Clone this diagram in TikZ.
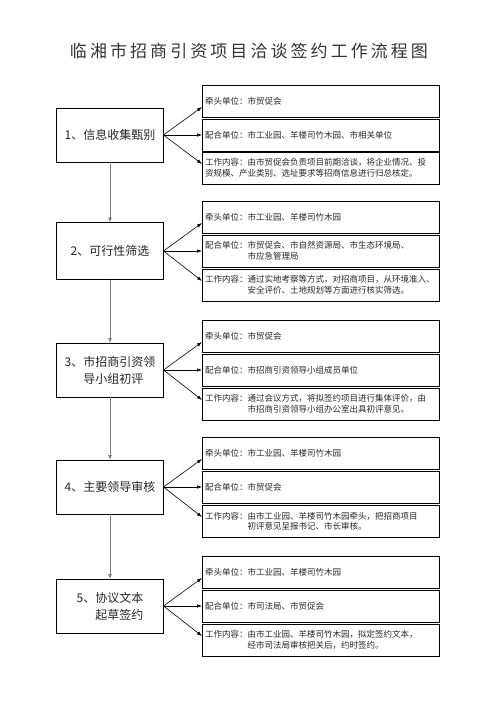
\documentclass[tikz,border=0pt]{standalone}
\usepackage{fontspec}
\setmainfont{Noto Sans CJK SC}
\usetikzlibrary{arrows.meta}
\definecolor{c262626}{RGB}{38,38,38}
\definecolor{c333333}{RGB}{51,51,51}
\definecolor{c808080}{RGB}{128,128,128}

\begin{document}
\begin{tikzpicture}[x=1pt, y=-1pt, inner sep=0pt, outer sep=0pt,
  stagebox/.style={draw=black, line width=0.8pt, minimum width=107pt, minimum height=54pt, text=c262626, font=\fontsize{12}{17}\selectfont, align=left},
  infobox/.style={draw=black, line width=0.8pt, anchor=north west, minimum height=32pt, text width=231pt, inner xsep=3pt, text=c262626, font=\fontsize{8.5}{10.5}\selectfont, align=left},
  flow/.style={draw=c808080, line width=0.8pt, -{Latex[length=5pt,width=4pt]}},
  fan/.style={draw=black, line width=0.6pt, -{Latex[length=5pt,width=3.5pt]}}]
  \useasboundingbox (0,0) rectangle (496,702);

  \node[font=\fontsize{17}{21}\selectfont\addfontfeature{LetterSpace=18}, text=c333333] (title) at (249,51) {临湘市招商引资项目洽谈签约工作流程图};

  \node[stagebox] (stage1) at (110,135) {1、信息收集甄别};
  \node[infobox] (lead1) at (202,85) {牵头单位：市贸促会};
  \node[infobox] (coop1) at (202,119) {配合单位：市工业园、羊楼司竹木园、市相关单位};
  \node[infobox] (work1) at (202,152) {工作内容：由市贸促会负责项目前期洽谈，将企业情况、投\\资规模、产业类别、选址要求等招商信息进行归总核定。};

  \node[stagebox, minimum height=57pt] (stage2) at (110,251) {2、可行性筛选};
  \node[infobox] (lead2) at (202,201) {牵头单位：市工业园、羊楼司竹木园};
  \node[infobox] (coop2) at (202,235) {配合单位：市贸促会、市自然资源局、市生态环境局、\\\hspace*{5em}市应急管理局};
  \node[infobox] (work2) at (202,269) {工作内容：通过实地考察等方式，对招商项目，从环境准入、\\\hspace*{5em}安全评价、土地规划等方面进行核实筛选。};

  \node[stagebox] (stage3) at (110,370) {3、市招商引资领\\\phantom{3、}导小组初评};
  \node[infobox] (lead3) at (202,320) {牵头单位：市贸促会};
  \node[infobox] (coop3) at (202,354) {配合单位：市招商引资领导小组成员单位};
  \node[infobox] (work3) at (202,388) {工作内容：通过会议方式，将拟签约项目进行集体评价，由\\\hspace*{5em}市招商引资领导小组办公室出具初评意见。};

  \node[stagebox] (stage4) at (110,487) {4、主要领导审核};
  \node[infobox] (lead4) at (202,437) {牵头单位：市工业园、羊楼司竹木园};
  \node[infobox] (coop4) at (202,471) {配合单位：市贸促会};
  \node[infobox] (work4) at (202,505) {工作内容：由市工业园、羊楼司竹木园牵头，把招商项目\\\hspace*{5em}初评意见呈报书记、市长审核。};

  \node[stagebox] (stage5) at (110,606) {5、协议文本\\\phantom{5、}起草签约};
  \node[infobox] (lead5) at (202,556) {牵头单位：市工业园、羊楼司竹木园};
  \node[infobox] (coop5) at (202,590) {配合单位：市司法局、市贸促会};
  \node[infobox] (work5) at (202,624) {工作内容：由市工业园、羊楼司竹木园，拟定签约文本，\\\hspace*{5em}经市司法局审核把关后，约时签约。};

  \draw[flow] (stage1) -- (stage2);
  \draw[flow] (stage2) -- (stage3);
  \draw[flow] (stage3) -- (stage4);
  \draw[flow] (stage4) -- (stage5);

  \draw[fan] (stage1.east) -- ([yshift=-6pt]lead1.west);
  \draw[fan] (stage1.east) -- (coop1.west);
  \draw[fan] (stage1.east) -- ([yshift=4pt]work1.west);
  \draw[fan] (stage2.east) -- ([yshift=-6pt]lead2.west);
  \draw[fan] (stage2.east) -- (coop2.west);
  \draw[fan] (stage2.east) -- ([yshift=4pt]work2.west);
  \draw[fan] (stage3.east) -- ([yshift=-6pt]lead3.west);
  \draw[fan] (stage3.east) -- (coop3.west);
  \draw[fan] (stage3.east) -- ([yshift=4pt]work3.west);
  \draw[fan] (stage4.east) -- ([yshift=-6pt]lead4.west);
  \draw[fan] (stage4.east) -- (coop4.west);
  \draw[fan] (stage4.east) -- ([yshift=4pt]work4.west);
  \draw[fan] (stage5.east) -- ([yshift=-6pt]lead5.west);
  \draw[fan] (stage5.east) -- (coop5.west);
  \draw[fan] (stage5.east) -- ([yshift=4pt]work5.west);

\end{tikzpicture}
\end{document}
